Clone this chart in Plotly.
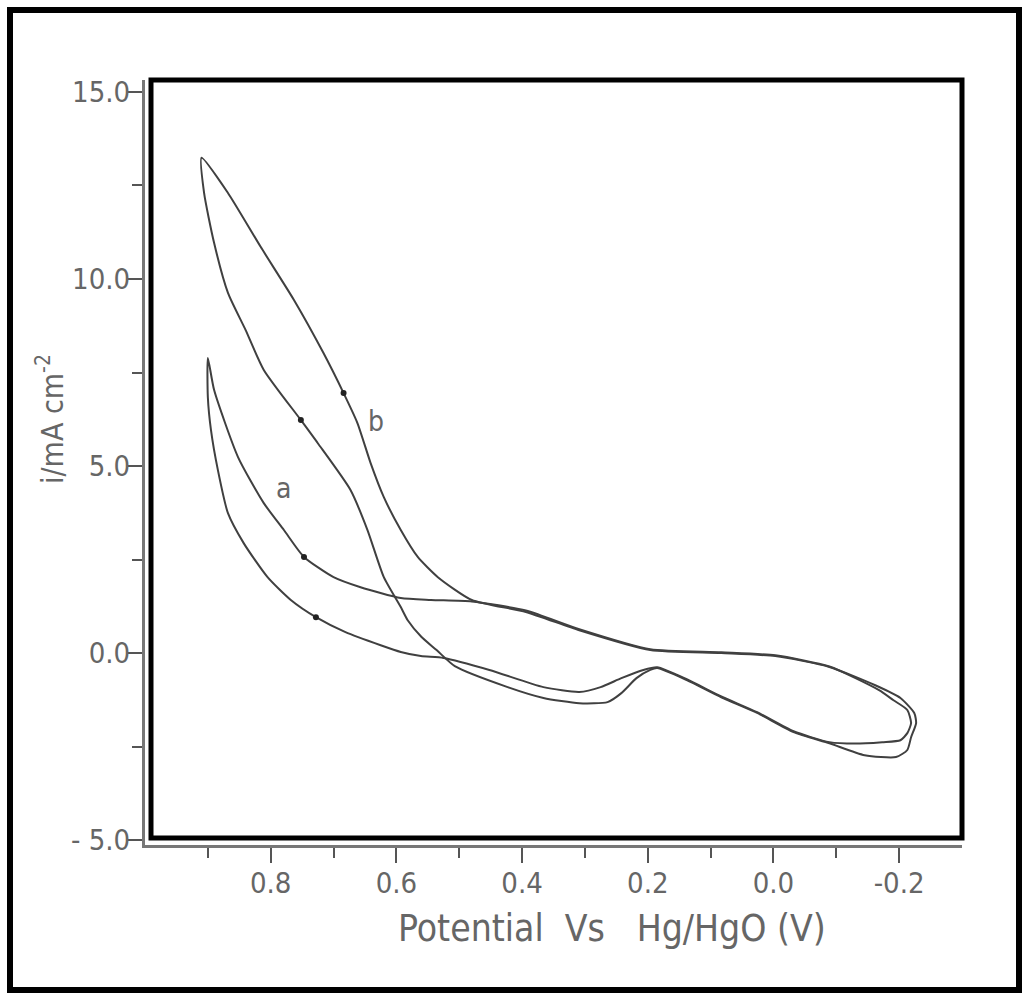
import plotly.graph_objects as go

# Curve b (outer loop)
b_potential = [0.910, 0.868, 0.816, 0.763, 0.716, 0.684, 0.662, 0.641, 0.620, 0.593, 0.566, 0.534,
               0.480, 0.394, 0.309, 0.196, 0.083, -0.003, -0.089, -0.162, -0.202, -0.224, -0.227,
               -0.219, -0.213, -0.195, -0.145, -0.089, -0.032, 0.026, 0.083, 0.138, 0.185, 0.196,
               0.218, 0.242, 0.264, 0.309, 0.366, 0.423, 0.507, 0.536, 0.560, 0.582, 0.593, 0.620,
               0.646, 0.673, 0.725, 0.752, 0.811, 0.840, 0.868, 0.890, 0.906, 0.910]
b_current = [13.24, 12.30, 10.86, 9.44, 8.02, 6.95, 6.15, 5.08, 4.17, 3.29, 2.57, 2.03,
             1.42, 1.10, 0.61, 0.08, 0.00, -0.08, -0.37, -0.86, -1.20, -1.60, -1.87,
             -2.25, -2.59, -2.78, -2.73, -2.41, -2.11, -1.60, -1.18, -0.72, -0.40, -0.45,
             -0.67, -1.07, -1.31, -1.34, -1.20, -0.91, -0.35, 0.08, 0.43, 0.88, 1.23, 2.03,
             3.29, 4.36, 5.61, 6.23, 7.57, 8.64, 9.63, 10.96, 12.30, 13.24]

# Curve a (inner loop)
a_potential = [0.900, 0.890, 0.852, 0.811, 0.779, 0.747, 0.700, 0.657, 0.593, 0.545, 0.480, 0.394,
               0.309, 0.196, 0.083, -0.003, -0.089, -0.168, -0.191, -0.213, -0.219, -0.213, -0.202,
               -0.173, -0.130, -0.089, -0.032, 0.026, 0.083, 0.138, 0.185, 0.207, 0.242, 0.275,
               0.309, 0.366, 0.452, 0.525, 0.561, 0.593, 0.625, 0.681, 0.728, 0.768, 0.805, 0.843,
               0.868, 0.884, 0.895, 0.900, 0.900]
a_current = [7.89, 7.03, 5.24, 4.01, 3.29, 2.57, 2.03, 1.76, 1.47, 1.42, 1.38, 1.14,
             0.64, 0.10, 0.02, -0.06, -0.36, -0.99, -1.26, -1.52, -1.87, -2.14, -2.33,
             -2.38, -2.42, -2.38, -2.09, -1.58, -1.16, -0.70, -0.38, -0.45, -0.67, -0.91,
             -1.04, -0.91, -0.45, -0.13, -0.08, 0.03, 0.21, 0.56, 0.96, 1.42, 2.03, 2.94,
             3.74, 4.89, 5.96, 6.84, 7.89]

# Sweep-direction arrow marks
arrow_potential = [0.684, 0.752, 0.747, 0.728]
arrow_current = [6.95, 6.23, 2.57, 0.96]

# Curve labels
label_text = ["b", "a"]
label_potential = [0.633, 0.779]
label_current = [6.18, 4.41]

# Ticks
x_major = [0.8, 0.6, 0.4, 0.2, 0.0, -0.2]
x_major_text = ["0.8", "0.6", "0.4", "0.2", "0.0", "-0.2"]
x_minor = [0.9, 0.7, 0.5, 0.3, 0.1, -0.1]
y_major = [15, 10, 5, 0, -5]
y_major_text = ["15.0", "10.0", "5.0", "0.0", "- 5.0"]
y_minor = [12.5, 7.5, 2.5, -2.5]

FONT = "Liberation Sans Narrow, DejaVu Sans Condensed, Roboto Condensed, Liberation Sans, sans-serif"
INK = "#404040"
TXT = "#666666"

fig = go.Figure()
for xs, ys in [(b_potential, b_current), (a_potential, a_current)]:
    fig.add_trace(go.Scatter(x=xs, y=ys, mode="lines",
                             line=dict(color=INK, width=2, shape="spline", smoothing=0.6),
                             hoverinfo="skip", showlegend=False))
fig.add_trace(go.Scatter(x=arrow_potential, y=arrow_current, mode="markers",
                         marker=dict(color="#222", size=6, symbol="circle"),
                         showlegend=False, hoverinfo="skip"))

L, R, T, B = 145, 61, 80, 151
W, H = 1023, 996
pw, ph = W - L - R, H - T - B

def px(xp):
    return (xp - L) / pw

def py(yp):
    return (H - B - yp) / ph

annotations = [
    dict(text=t, x=xv, y=yv, xref="x", yref="y", showarrow=False,
         xanchor="center", yanchor="middle",
         font=dict(family=FONT, size=28, color=TXT))
    for t, xv, yv in zip(label_text, label_potential, label_current)
]
annotations += [
    dict(text="Potential\u00a0\u00a0Vs\u00a0\u00a0\u00a0Hg/HgO\u00a0(V)", xref="paper", yref="paper",
         x=px(612), y=py(928), showarrow=False, xanchor="center", yanchor="middle",
         font=dict(family=FONT, size=37, color=TXT)),
    dict(text="i/mA cm<sup>-2</sup>", xref="paper", yref="paper",
         x=px(50), y=py(419), showarrow=False, xanchor="center", yanchor="middle",
         textangle=-90, font=dict(family=FONT, size=30, color=TXT)),
]

fig.update_layout(
    width=W, height=H,
    margin=dict(l=L, r=R, t=T, b=B, pad=0),
    paper_bgcolor="white", plot_bgcolor="white",
    font=dict(family=FONT, color=TXT, size=26),
    xaxis=dict(range=[1.0, -0.3], showgrid=False, zeroline=False,
               showline=True, linecolor="#777", linewidth=3, mirror=False,
               tickmode="array", tickvals=x_major, ticktext=x_major_text,
               ticks="outside", ticklen=15, tickwidth=2, tickcolor="#555",
               tickfont=dict(family=FONT, size=29, color=TXT),
               ticklabelstandoff=-5,
               minor=dict(tickmode="array", tickvals=x_minor, ticks="outside",
                          ticklen=10, tickwidth=2, tickcolor="#555")),
    yaxis=dict(range=[-5.13, 15.32], showgrid=False, zeroline=False,
               showline=True, linecolor="#777", linewidth=3, mirror=False,
               tickmode="array", tickvals=y_major, ticktext=y_major_text,
               ticks="outside", ticklen=14, tickwidth=2, tickcolor="#555",
               tickfont=dict(family=FONT, size=29, color=TXT),
               ticklabelstandoff=-8,
               minor=dict(tickmode="array", tickvals=y_minor, ticks="outside",
                          ticklen=10, tickwidth=2, tickcolor="#555")),
    shapes=[
        dict(type="rect", xref="paper", yref="paper",
             x0=px(151), x1=px(962), y0=py(838), y1=py(80),
             line=dict(color="black", width=5), fillcolor="rgba(0,0,0,0)", layer="above"),
        dict(type="rect", xref="paper", yref="paper",
             x0=px(10), x1=px(1019), y0=py(990), y1=py(10),
             line=dict(color="black", width=6), fillcolor="rgba(0,0,0,0)", layer="above"),
    ],
    annotations=annotations,
)

fig.write_html("out.html")
